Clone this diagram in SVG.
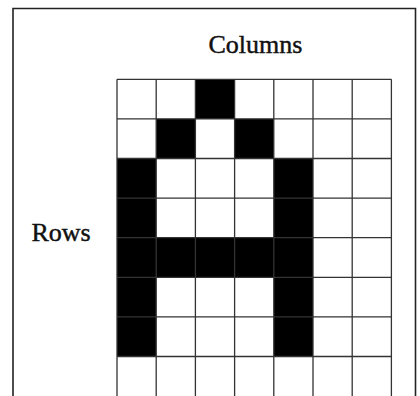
<svg xmlns="http://www.w3.org/2000/svg" width="420" height="396" viewBox="0 0 420 396">
<style>
.lbl{font-family:"Liberation Serif","Times New Roman",serif;font-size:26px;fill:#111;stroke:#111;stroke-width:0.45}
.gl{stroke:#333;stroke-width:1.3;fill:none}
.on{fill:#000}
.frame{stroke:#222;stroke-width:1.6;fill:none}
</style>
<rect width="420" height="396" fill="#fff"/>
<path id="frame" class="frame" d="M13,400 V8.5 H415.5 V400"/>
<g id="labels">
<text class="lbl" x="255.5" y="53" text-anchor="middle">Columns</text>
<text class="lbl" x="31.5" y="241">Rows</text>
</g>
<g id="cells">
<rect class="on" x="195.4" y="79.3" width="39.2" height="39.6"/>
<rect class="on" x="156.2" y="118.9" width="39.2" height="39.6"/>
<rect class="on" x="234.6" y="118.9" width="39.2" height="39.6"/>
<rect class="on" x="117" y="158.5" width="39.2" height="198.0"/>
<rect class="on" x="273.8" y="158.5" width="39.2" height="198.0"/>
<rect class="on" x="117" y="237.7" width="196" height="39.6"/>
</g>
<g id="grid" class="gl">
<path d="M117,79.3V396M156.2,79.3V396M195.4,79.3V396M234.6,79.3V396M273.8,79.3V396M313,79.3V396M352.2,79.3V396M391.4,79.3V396"/>
<path d="M117,79.3H391.4M117,118.9H391.4M117,158.5H391.4M117,198.1H391.4M117,237.7H391.4M117,277.3H391.4M117,316.9H391.4M117,356.5H391.4"/>
</g>
</svg>
